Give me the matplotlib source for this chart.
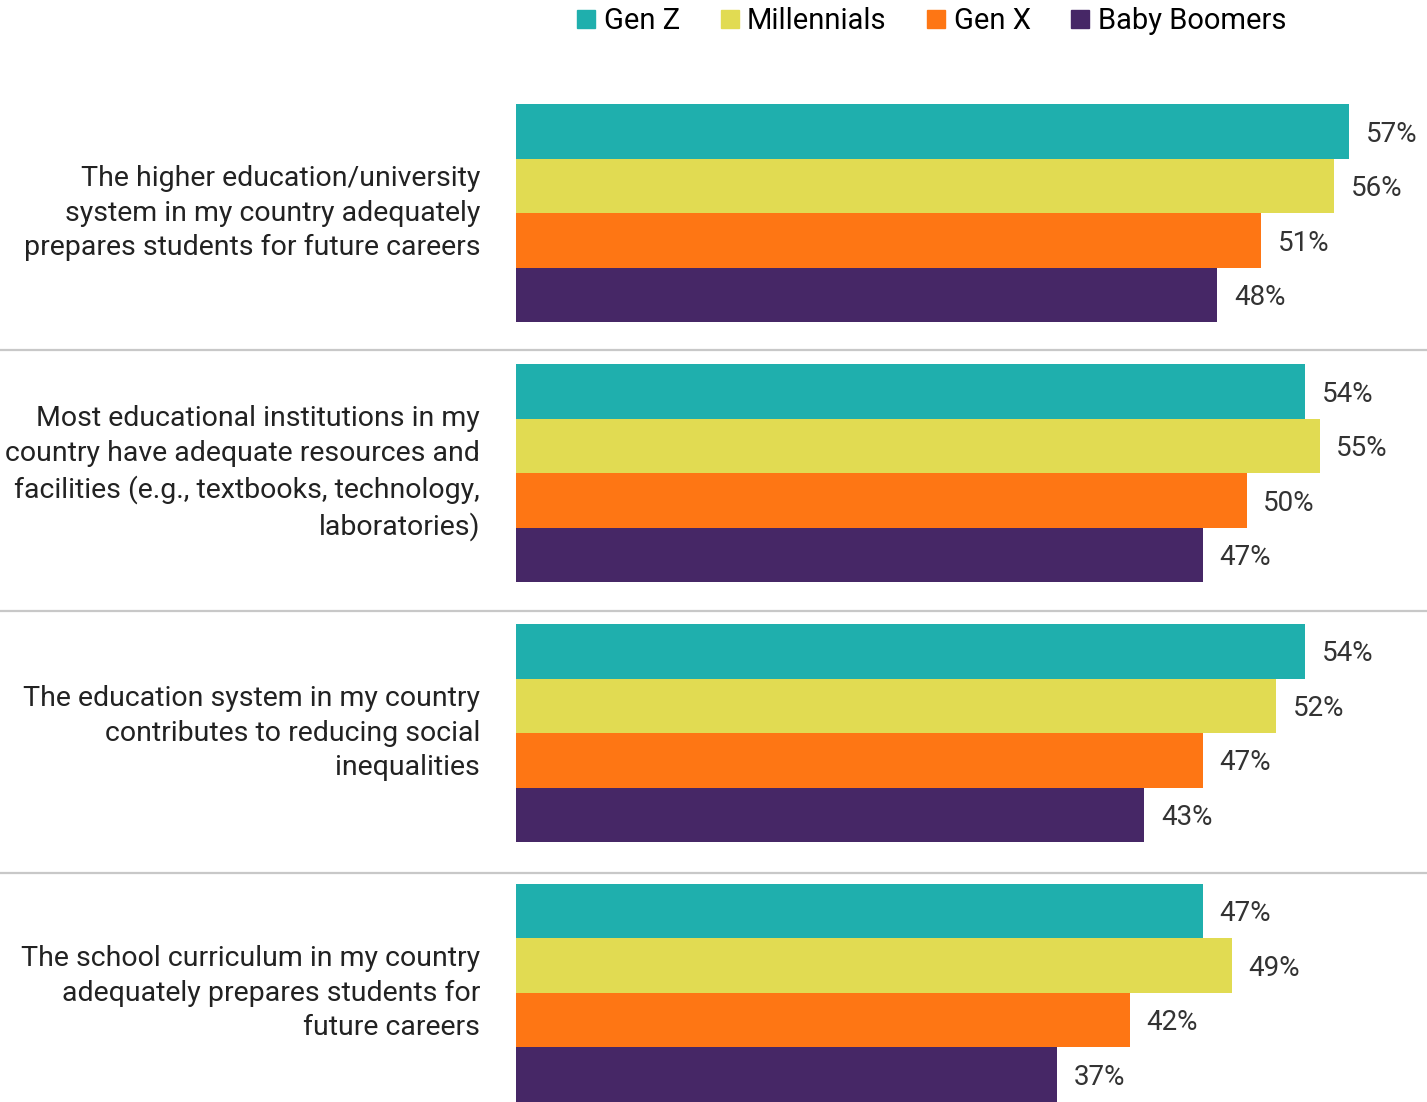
#------------------------------------------------------------------------------
# Views on the education system, by generation (horizontal grouped bars)
#------------------------------------------------------------------------------
import matplotlib
matplotlib.use("Agg")
import matplotlib.pyplot as plt
import matplotlib.transforms as mtransforms
from matplotlib.lines import Line2D

plt.rcParams['font.family'] = ['Roboto', 'DejaVu Sans']

                               # Data
statements = [
    "The higher education/university\nsystem in my country adequately\nprepares students for future careers",
    "Most educational institutions in my\ncountry have adequate resources and\nfacilities (e.g., textbooks, technology,\nlaboratories)",
    "The education system in my country\ncontributes to reducing social\ninequalities",
    "The school curriculum in my country\nadequately prepares students for\nfuture careers",
]
generations = ["Gen Z", "Millennials", "Gen X", "Baby Boomers"]
gen_z        = [57, 54, 54, 47]
millennials  = [56, 55, 52, 49]
gen_x        = [51, 50, 47, 42]
baby_boomers = [48, 47, 43, 37]

colors = ["#1FAFAD", "#E1DB52", "#FE7614", "#462766"]
series = [gen_z, millennials, gen_x, baby_boomers]

                               # Layout constants
W, H = 1427, 1102
LEFT_PX = 516
GROUP_STEP = 4.77              # distance between groups, in bar heights
Y_TOP = -2.41                  # data y at figure top
Y_BOT = Y_TOP + H / 54.5

#------------------------------------------------------------------------------
fig = plt.figure(figsize=(W / 100, H / 100), dpi=100)
ax = fig.add_axes([LEFT_PX / W, 0, 1 - LEFT_PX / W, 1])

for k, (vals, col) in enumerate(zip(series, colors)):
    ys = [g * GROUP_STEP + k for g in range(len(statements))]
    ax.barh(ys, vals, height=1.0, color=col, label=generations[k])
    for y, v in zip(ys, vals):
        ax.text(v + 1.15, y + 0.05, "%d%%" % v, va='center', ha='left',
                fontsize=20, color='#333333')

# statement labels, right aligned left of the bars
for g, s in enumerate(statements):
    ax.text(-2.45, g * GROUP_STEP + 1.5, s, ha='right', va='center',
            fontsize=20.5, color='#222222', linespacing=1.36)

# grey separators across the whole figure width
trans = mtransforms.blended_transform_factory(fig.transFigure, ax.transData)
for g in range(len(statements) - 1):
    ysep = g * GROUP_STEP + 3.5 + (GROUP_STEP - 4) / 2 + 0.12 + 0.035 * g
    fig.add_artist(Line2D([0, 1], [ysep, ysep], transform=trans,
                          color='#c8c8c8', lw=1.6))

ax.set_xlim(0, (W - LEFT_PX) / 14.61)
ax.set_ylim(Y_BOT, Y_TOP)
ax.axis('off')

# legend at the top
handles = [Line2D([], [], marker='s', ls='', markersize=13, color=c)
           for c in colors]
fig.legend(handles, generations, loc='center', bbox_to_anchor=(929 / W, 1 - 21 / H),
           ncol=4, frameon=False, fontsize=21, handletextpad=0.1,
           columnspacing=1.2, handlelength=1.0)

fig.savefig("out.png", dpi=100)
